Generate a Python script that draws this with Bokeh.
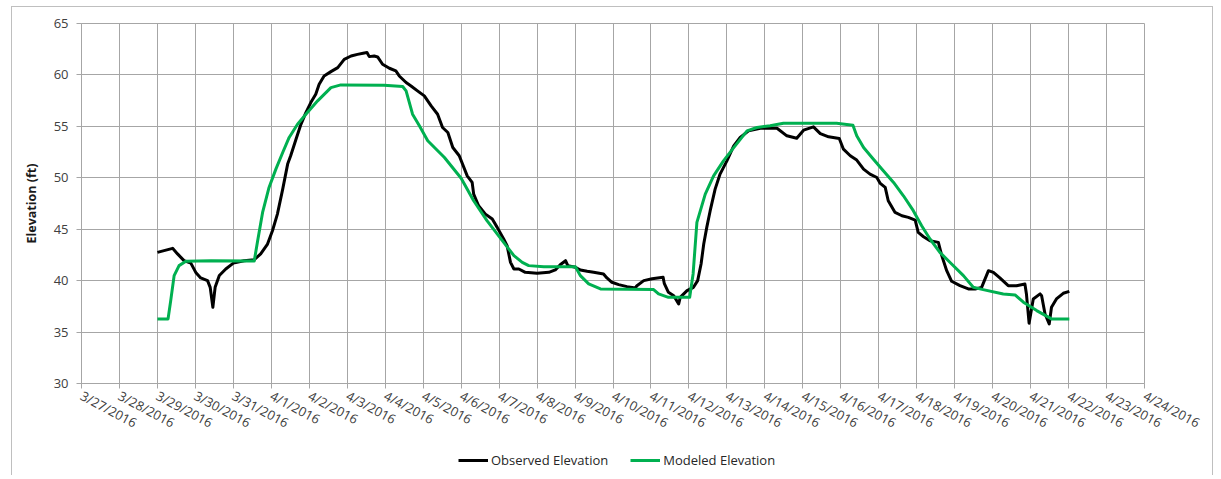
from bokeh.plotting import figure
from bokeh.models import Range1d, FixedTicker, Legend, LegendItem
from bokeh.layouts import column
from bokeh.embed import file_html
from bokeh.resources import INLINE

# x tick labels (one per day, day 0 = 3/27/2016)
tick_labels = ["3/27/2016", "3/28/2016", "3/29/2016", "3/30/2016", "3/31/2016",
               "4/1/2016", "4/2/2016", "4/3/2016", "4/4/2016", "4/5/2016",
               "4/6/2016", "4/7/2016", "4/8/2016", "4/9/2016", "4/10/2016",
               "4/11/2016", "4/12/2016", "4/13/2016", "4/14/2016", "4/15/2016",
               "4/16/2016", "4/17/2016", "4/18/2016", "4/19/2016", "4/20/2016",
               "4/21/2016", "4/22/2016", "4/23/2016", "4/24/2016"]
y_ticks = [30, 35, 40, 45, 50, 55, 60, 65]
series_names = ["Observed Elevation", "Modeled Elevation"]

# Observed elevation (days since 3/27/2016 00:00, ft)
obs_day = [2.0, 2.40, 2.53, 2.70, 2.88, 3.01, 3.14, 3.32, 3.39, 3.46,
           3.52, 3.63, 3.80, 4.0, 4.28, 4.55, 4.72, 4.90, 5.03, 5.16,
           5.30, 5.43, 5.51, 5.65, 5.78, 5.91, 6.04, 6.17, 6.26, 6.39,
           6.57, 6.75, 6.92, 7.10, 7.27, 7.45, 7.52, 7.58, 7.71, 7.80,
           7.93, 8.11, 8.28, 8.37, 8.55, 8.68, 8.85, 9.03, 9.21, 9.38,
           9.51, 9.65, 9.78, 9.95,
           10.16, 10.29, 10.33, 10.46, 10.64, 10.82, 10.95, 11.12, 11.21, 11.30,
           11.39, 11.52, 11.69, 12.0, 12.31, 12.48, 12.61, 12.75, 12.81, 13.01,
           13.14, 13.32, 13.49, 13.75, 13.84, 13.97, 14.15, 14.37, 14.59, 14.63,
           14.81, 15.03, 15.32, 15.35, 15.46, 15.6, 15.73, 15.77, 15.95, 16.12,
           16.23, 16.32, 16.39, 16.47, 16.56, 16.69, 16.82, 17.0, 17.18, 17.35,
           17.57, 17.88,
           18.32, 18.58, 18.84, 19.02, 19.28, 19.46, 19.68, 19.96, 20.07, 20.25,
           20.42, 20.6, 20.77, 20.95, 21.04, 21.17, 21.25, 21.43, 21.61, 21.78,
           21.96, 22.04, 22.18, 22.35, 22.57, 22.66, 22.79, 22.92, 23.14, 23.36,
           23.54, 23.71, 23.89, 24.02, 24.19, 24.41, 24.63, 24.85, 24.89, 24.96,
           25.07, 25.25, 25.29, 25.38, 25.49, 25.55, 25.68, 25.86, 26.02]
obs_elev = [42.75, 43.14, 42.6, 41.95, 41.7, 40.8, 40.26, 40.0, 39.35, 37.41,
            39.35, 40.5, 41.13, 41.7, 41.94, 42.04, 42.6, 43.56, 44.85, 46.47,
            48.9, 51.33, 52.14, 53.75, 55.2, 56.34, 57.31, 58.12, 59.09, 59.9,
            60.32, 60.71, 61.52, 61.84, 62.0, 62.14, 62.17, 61.78, 61.84, 61.75,
            61.04, 60.65, 60.39, 59.9, 59.26, 58.93, 58.45, 57.96, 56.99, 56.18,
            54.89, 54.4, 52.94, 52.14,
            50.19, 49.55, 48.41, 47.28, 46.47, 45.99, 45.18, 44.05, 43.4, 41.78,
            41.13, 41.13, 40.81, 40.71, 40.81, 41.04, 41.55, 41.94, 41.46, 41.3,
            41.04, 40.91, 40.81, 40.65, 40.26, 39.84, 39.61, 39.42, 39.29, 39.51,
            40.0, 40.19, 40.32, 39.74, 38.87, 38.54, 37.73, 38.38, 39.03, 39.35,
            40.0, 41.62, 43.56, 45.18, 46.8, 48.9, 50.36, 51.65, 53.11, 53.92,
            54.56, 54.82,
            54.82, 54.08, 53.85, 54.63, 54.95, 54.3, 53.98, 53.82, 52.78, 52.14,
            51.72, 50.84, 50.36, 50.03, 49.45, 49.06, 47.77, 46.63, 46.31, 46.15,
            45.89, 44.69, 44.27, 43.88, 43.72, 42.43, 40.97, 39.94, 39.51, 39.19,
            39.19, 39.35, 40.97, 40.81, 40.26, 39.51, 39.51, 39.68, 38.71, 35.86,
            38.22, 38.71, 38.54, 36.76, 35.79, 37.41, 38.22, 38.77, 38.96]

# Modeled elevation
mod_day = [2.0, 2.28, 2.35, 2.44, 2.57, 2.75, 3.41, 4.55, 4.64, 4.77,
           4.94, 5.12, 5.30, 5.47, 5.69, 5.95, 6.22, 6.57, 6.83, 7.97,
           8.46, 8.55, 8.72, 8.90, 9.12, 9.56, 10.0,
           10.33, 10.68, 11.12, 11.39, 11.61, 11.78, 12.18, 13.01, 13.14, 13.36,
           13.67, 15.07, 15.20, 15.46, 16.02, 16.11, 16.21, 16.43, 16.65, 16.91,
           17.18, 17.53, 17.79,
           18.14, 18.49, 19.89, 20.32, 20.42, 20.6, 20.86, 21.12, 21.39, 21.65,
           21.91, 22.13, 22.35, 22.61, 22.92, 23.23, 23.49, 23.75, 24.28, 24.59,
           24.81, 25.16, 25.55, 26.02]
mod_elev = [36.28, 36.28, 38.06, 40.49, 41.46, 41.88, 41.94, 41.9, 43.88, 46.63,
            49.06, 50.84, 52.46, 53.92, 55.2, 56.34, 57.48, 58.77, 59.03, 59.0,
            58.87, 58.45, 56.18, 55.05, 53.6, 51.97, 49.95,
            47.77, 45.83, 43.72, 42.43, 41.78, 41.46, 41.36, 41.36, 40.49, 39.68,
            39.19, 39.13, 38.71, 38.38, 38.38, 40.65, 45.66, 48.41, 50.19, 51.65,
            52.94, 54.56, 54.89,
            55.05, 55.31, 55.31, 55.11, 54.08, 52.94, 51.81, 50.68, 49.55, 48.25,
            46.8, 45.34, 44.05, 42.75, 41.62, 40.49, 39.35, 39.13, 38.71, 38.61,
            37.9, 37.09, 36.28, 36.28]

GRID = "#a6a6a6"
FONT = "Open Sans"
COLORS = ["black", "#00b050"]
series = [(obs_day, obs_elev), (mod_day, mod_elev)]

p = figure(width=1200, height=440, output_backend="svg", toolbar_location=None,
           x_range=Range1d(0, len(tick_labels) - 1), y_range=Range1d(30, 65),
           min_border_left=69, min_border_right=68, min_border_top=16,
           min_border_bottom=64)
p.outline_line_color = GRID
p.background_fill_color = "white"
p.border_fill_color = "white"

# grids
p.xgrid.ticker = FixedTicker(ticks=list(range(len(tick_labels))))
p.ygrid.ticker = FixedTicker(ticks=y_ticks)
p.xgrid.grid_line_color = GRID
p.ygrid.grid_line_color = GRID

# x axis
p.xaxis.ticker = FixedTicker(ticks=list(range(len(tick_labels))))
p.xaxis.major_label_overrides = {i: t for i, t in enumerate(tick_labels)}
p.xaxis.major_label_orientation = -0.49
p.xaxis.major_label_standoff = 6
# y axis
p.yaxis.ticker = FixedTicker(ticks=y_ticks)
p.yaxis.major_label_standoff = 8
p.yaxis.axis_label = "Elevation (ft)"
p.yaxis.axis_label_text_font = FONT
p.yaxis.axis_label_text_font_size = "12.5px"
p.yaxis.axis_label_text_font_style = "bold"
p.yaxis.axis_label_text_color = "#1a1a1a"
p.yaxis.axis_label_standoff = 11

for ax in (p.xaxis, p.yaxis):
    ax.axis_line_color = GRID
    ax.major_tick_line_color = GRID
    ax.major_tick_in = 0
    ax.major_tick_out = 5
    ax.minor_tick_line_color = None
    ax.major_label_text_font = FONT
    ax.major_label_text_font_size = "13px"
    ax.major_label_text_color = "#404040"

for (xs, ys), c in zip(series, COLORS):
    p.line(xs, ys, line_color=c, line_width=3, line_join="round")

# legend strip below the chart: same series, ranges chosen so that only
# the legend key is visible in this strip
lg = figure(width=1200, height=28, output_backend="svg", toolbar_location=None,
            x_range=Range1d(0, 1), y_range=Range1d(0, 1),
            min_border=0, min_border_left=0, min_border_right=0,
            min_border_top=0, min_border_bottom=0)
lg.axis.visible = False
lg.grid.visible = False
lg.outline_line_color = None
lg.border_fill_color = "white"
keys = [lg.line(xs, ys, line_color=c, line_width=3)
        for (xs, ys), c in zip(series, COLORS)]
legend = Legend(items=[LegendItem(label=n, renderers=[r])
                       for n, r in zip(series_names, keys)],
                orientation="horizontal", location=(377, 6),
                padding=0, margin=0, spacing=22, glyph_width=30,
                glyph_height=16, label_height=16, label_standoff=3,
                label_text_font=FONT, label_text_font_size="13px",
                label_text_color="#262626", border_line_alpha=0,
                background_fill_alpha=0)
lg.add_layout(legend)

layout = column(p, lg, spacing=0)
layout.styles = {"border-left": "1px solid #bfbfbf", "border-top": "1px solid #bfbfbf",
                 "border-right": "1px solid #bfbfbf", "margin-left": "11px",
                 "margin-top": "6px"}

open("out.html", "w").write(file_html(layout, INLINE))
